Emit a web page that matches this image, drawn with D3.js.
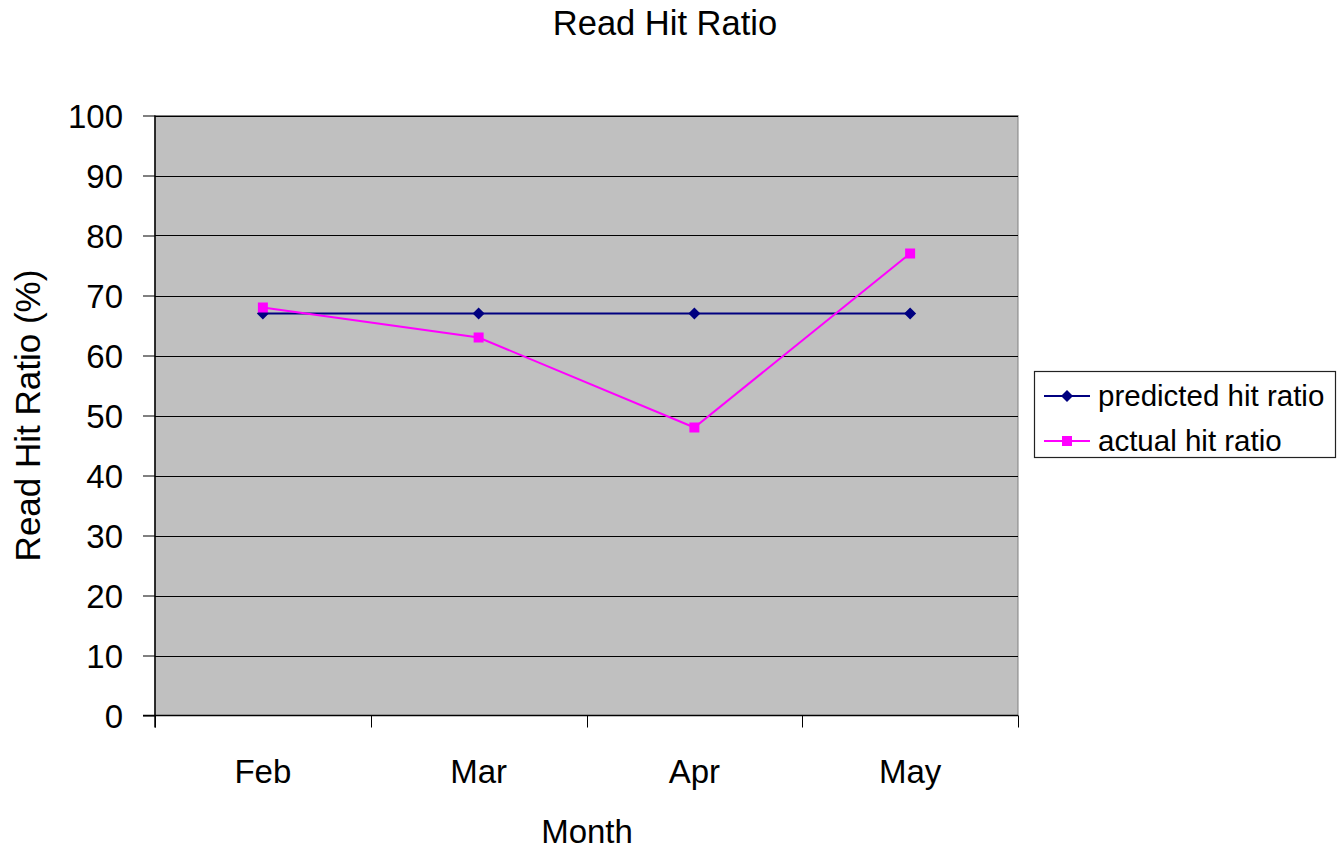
<!DOCTYPE html>
<html><head><meta charset="utf-8">
<script src="https://cdn.jsdelivr.net/npm/d3@7"></script>
<style>body{margin:0;background:#fff}svg{display:block}text{font-family:"Liberation Sans",Arial,sans-serif;fill:#000}</style>
</head><body>
<script>
const months = ["Feb","Mar","Apr","May"];
const predicted = [67,67,67,67];
const actual = [68,63,48,77];
const yTicks = [0,10,20,30,40,50,60,70,80,90,100];
const seriesNames = ["predicted hit ratio","actual hit ratio"];
const seriesColors = ["#000080","#ff00ff"];

const W=1338,H=849;
const m={left:155,top:115.5,right:1018,bottom:715.5};
const svg=d3.select("body").append("svg").attr("width",W).attr("height",H);

const x=d3.scaleBand().domain(months).range([m.left,m.right]);
const y=d3.scaleLinear().domain([0,100]).range([m.bottom,m.top]);

svg.append("rect").attr("x",m.left).attr("y",m.top).attr("width",m.right-m.left).attr("height",m.bottom-m.top)
  .attr("fill","#c0c0c0").attr("stroke","#808080").attr("stroke-width",1);

// gridlines
svg.append("g").selectAll("line").data(yTicks.filter(d=>d>0)).join("line")
  .attr("x1",m.left).attr("x2",m.right).attr("y1",d=>Math.round(y(d))+0.5).attr("y2",d=>Math.round(y(d))+0.5)
  .attr("stroke","#000").attr("stroke-width",1);

// y axis
const yAxis=svg.append("g").attr("transform",`translate(${m.left},0)`)
  .call(d3.axisLeft(y).tickValues(yTicks).tickSize(12).tickPadding(20).tickFormat(d3.format("d")));
yAxis.select(".domain").remove();
yAxis.selectAll(".tick line").attr("stroke","#000");
yAxis.selectAll(".tick text").style("font-size","33px").attr("dy","0.36em");
svg.append("line").attr("x1",m.left).attr("x2",m.left).attr("y1",m.top).attr("y2",m.bottom+12).attr("stroke","#000").attr("stroke-width",1.5);

// x axis
svg.append("line").attr("x1",m.left-12).attr("x2",m.right).attr("y1",m.bottom).attr("y2",m.bottom).attr("stroke","#000").attr("stroke-width",1.5);
const bounds=months.map(d=>x(d)).concat([m.right]);
svg.append("g").selectAll("line").data(bounds).join("line")
  .attr("x1",d=>Math.round(d)+0.5).attr("x2",d=>Math.round(d)+0.5).attr("y1",m.bottom).attr("y2",m.bottom+12)
  .attr("stroke","#000").attr("stroke-width",1);
svg.append("g").selectAll("text").data(months).join("text")
  .attr("x",d=>x(d)+x.bandwidth()/2).attr("y",783).attr("text-anchor","middle").style("font-size","33px").text(d=>d);

// titles
svg.append("text").attr("x",665).attr("y",35).attr("text-anchor","middle").style("font-size","34.5px").text("Read Hit Ratio");
svg.append("text").attr("x",587).attr("y",843).attr("text-anchor","middle").style("font-size","33px").text("Month");
svg.append("text").attr("transform",`translate(40,${(m.top+m.bottom)/2}) rotate(-90)`).attr("text-anchor","middle").style("font-size","35px").text("Read Hit Ratio (%)");

const cx=d=>x(d)+x.bandwidth()/2;
const line=d3.line().x((v,i)=>cx(months[i])).y(v=>y(v));
const diamondType={draw(ctx,size){const r=Math.sqrt(size/2);ctx.moveTo(0,-r);ctx.lineTo(r,0);ctx.lineTo(0,r);ctx.lineTo(-r,0);ctx.closePath();}};
const diamond=d3.symbol().type(diamondType).size(72);

svg.append("path").datum(predicted).attr("d",line).attr("fill","none").attr("stroke",seriesColors[0]).attr("stroke-width",2);
svg.append("path").datum(actual).attr("d",line).attr("fill","none").attr("stroke",seriesColors[1]).attr("stroke-width",2);
svg.append("g").selectAll("path").data(predicted).join("path")
  .attr("transform",(v,i)=>`translate(${cx(months[i])},${y(v)})`).attr("d",diamond).attr("fill",seriesColors[0]);
svg.append("g").selectAll("rect").data(actual).join("rect")
  .attr("x",(v,i)=>cx(months[i])-5).attr("y",v=>y(v)-5).attr("width",10).attr("height",10).attr("fill",seriesColors[1]);

// legend
const lg=svg.append("g");
lg.append("rect").attr("x",1034.5).attr("y",371.5).attr("width",301).attr("height",86).attr("fill","#fff").attr("stroke","#222").attr("stroke-width",1.2);
const rows=[396,441];
seriesNames.forEach((n,i)=>{
  lg.append("line").attr("x1",1044).attr("x2",1090).attr("y1",rows[i]).attr("y2",rows[i]).attr("stroke",seriesColors[i]).attr("stroke-width",2);
  if(i===0) lg.append("path").attr("transform",`translate(1067,${rows[i]})`).attr("d",diamond).attr("fill",seriesColors[i]);
  else lg.append("rect").attr("x",1062).attr("y",rows[i]-5).attr("width",10).attr("height",10).attr("fill",seriesColors[i]);
  lg.append("text").attr("x",1098).attr("y",rows[i]).attr("dy","0.35em").style("font-size","29.5px").text(n);
});
</script>
</body></html>
